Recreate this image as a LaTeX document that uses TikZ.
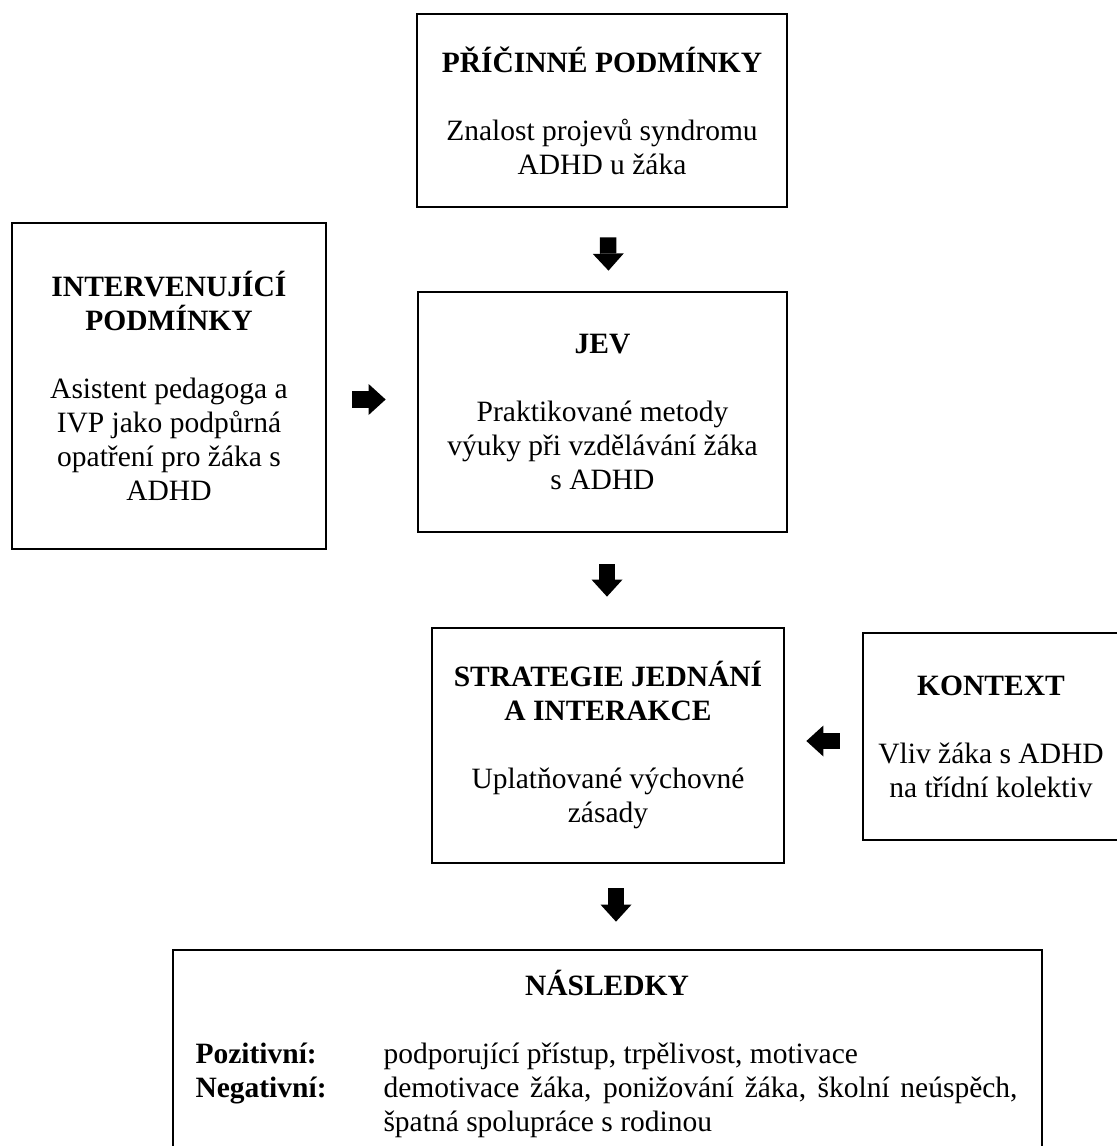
\documentclass[tikz,border=0pt]{standalone}
\usepackage{fontspec}
\setmainfont{Liberation Serif}
\usetikzlibrary{arrows.meta,calc}
\newcommand\myfs{\fontsize{11.8pt}{13.6pt}\selectfont}
\begin{document}
\begin{tikzpicture}[x=0.4pt,y=-0.4pt,
  box/.style 2 args={draw, line width=1.1pt, minimum width=#1*0.4pt, minimum height=#2*0.4pt, inner sep=0pt, align=center, font=\myfs},
  blk/.style={line width=6.6pt, -{Triangle[line width=0pt, width=12.4pt, length=6.8pt]}},
  txt/.style={inner sep=0pt, font=\myfs}]
\fill[white] (0,0) rectangle (1117,1146);
\useasboundingbox (0,0) rectangle (1117,1146);

\node[box={370}{193}] (pric) at (602,110.5) {\textbf{PŘÍČINNÉ PODMÍNKY}\\[13.6pt]Znalost projevů syndromu\\ADHD u žáka};
\node[box={314}{326}] (interv) at (169,386) {\textbf{INTERVENUJÍCÍ}\\\textbf{PODMÍNKY}\\[13.6pt]Asistent pedagoga a\\IVP jako podpůrná\\opatření pro žáka s\\ADHD};
\node[box={369}{240}] (jev) at (602.5,412) {\textbf{JEV}\\[13.6pt]Praktikované metody\\výuky při vzdělávání žáka\\s ADHD};
\node[box={352}{235}] (strat) at (608,745.5) {\textbf{STRATEGIE JEDNÁNÍ}\\\textbf{A INTERAKCE}\\[13.6pt]Uplatňované výchovné\\zásady};
\node[box={256}{207}] (kontext) at (991,736.5) {\textbf{KONTEXT}\\[13.6pt]Vliv žáka s ADHD\\na třídní kolektiv};
\node[box={869}{200}] (nasl) at (607.5,1050) {};

\node[txt, anchor=base] (naslh) at (607,995) {\textbf{NÁSLEDKY}};
\node[txt, anchor=base west] (poz) at (195,1063) {\textbf{Pozitivní:}};
\node[txt, anchor=base west] (neg) at (195,1097) {\textbf{Negativní:}};
\node[txt, anchor=base west] (pozt) at (383,1063) {podporující přístup, trpělivost, motivace};
\node[txt, anchor=base west] (negta) at (383,1097) {\makebox[253.6pt][s]{demotivace žáka, ponižování žáka, školní neúspěch,}};
\node[txt, anchor=base west] (negtb) at (383,1131) {špatná spolupráce s rodinou};

\draw[blk] ($(pric.south)+(6,29)$) -- ($(jev.north)+(6,-20)$);
\draw[blk] ($(jev.south)+(4.5,31)$) -- ($(strat.north)+(-1,-30)$);
\draw[blk] ($(strat.south)+(8,24)$) -- ($(nasl.north)+(8.5,-27)$);
\draw[blk] ($(interv.east)+(25,13.5)$) -- ($(jev.west)+(-31,-12.5)$);
\draw[blk] ($(kontext.west)+(-22,4.5)$) -- ($(strat.east)+(21,-4.5)$);
\end{tikzpicture}
\end{document}
